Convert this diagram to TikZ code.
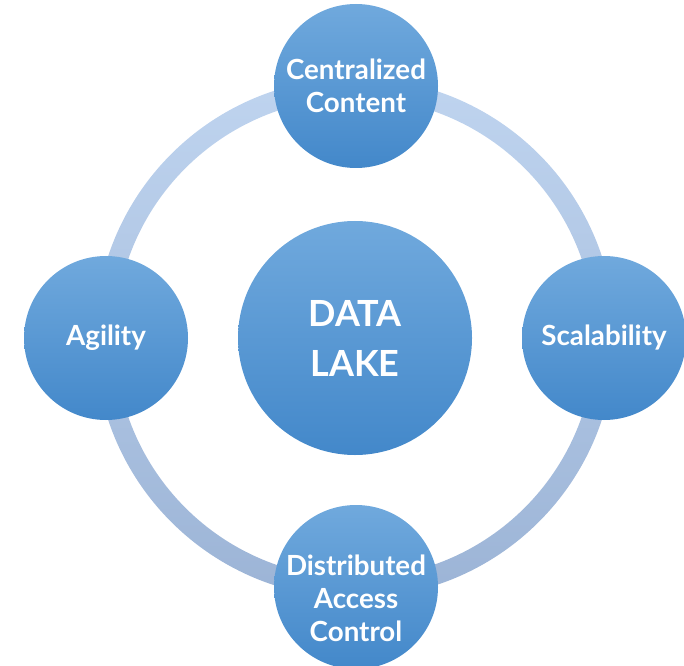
\documentclass[tikz,border=0pt]{standalone}
\usepackage{fontspec}
\setmainfont{Lato}
\definecolor{bubbletop}{HTML}{70A9DD}
\definecolor{bubblebot}{HTML}{4388CA}
\definecolor{ringtop}{HTML}{BFD4EF}
\definecolor{ringbot}{HTML}{9CB4D6}
\tikzset{
  bubble/.style={circle, minimum size=123pt, inner sep=0pt, top color=bubbletop, bottom color=bubblebot, draw=none},
  bigbubble/.style={bubble, minimum size=175.5pt},
  txt/.style={text=white, font=\bfseries\fontsize{20.8}{24.5}\selectfont, align=center},
  bigtxt/.style={text=white, font=\bfseries\fontsize{27}{37.5}\selectfont, align=center}
}
\begin{document}
\begin{tikzpicture}[x=0.75pt, y=-0.75pt]
\pgfmathsetmacro{\ringr}{250}
\pgfmathsetmacro{\ringw}{10}
\useasboundingbox (0,0) rectangle (684,666);
\begin{scope}
\clip (0,0) rectangle (684,666);
% ring behind the bubbles
\path[even odd rule, top color=ringtop, bottom color=ringbot]
  (355,338) circle[radius=\ringr+\ringw] (355,338) circle[radius=\ringr-\ringw];
\node[bigbubble, bigtxt] (lake) at (355,338) {DATA\\LAKE};
\node[bubble, txt] (content) at (356,86) {Centralized\\Content};
\node[bubble, txt] (scale) at (604,338) {Scalability};
\node[bubble, txt] (agile) at (106,338) {Agility};
\node[bubble, label={[txt, yshift=-8.5pt]center:Distributed\\Access\\Control}] (access) at (356,587) {};
\end{scope}
\end{tikzpicture}
\end{document}
